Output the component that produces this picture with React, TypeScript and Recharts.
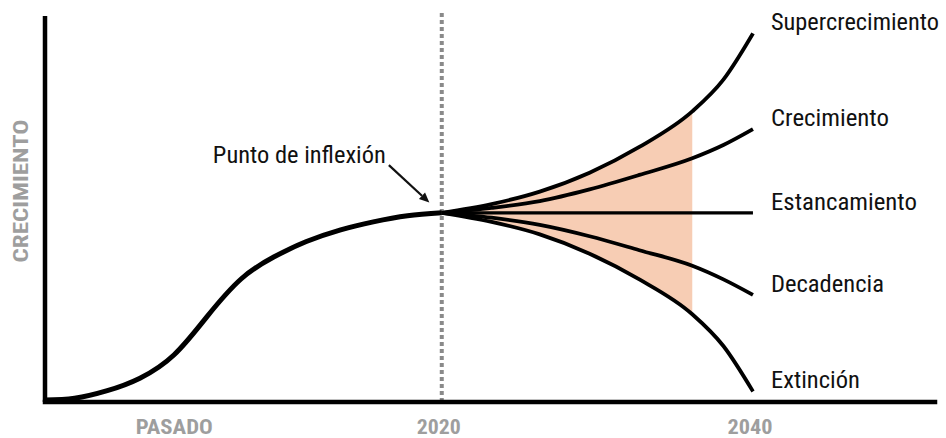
import { ComposedChart, Line, Area, XAxis, YAxis, ReferenceLine } from 'recharts'

// curva S del pasado (años, nivel de crecimiento 0-100)
const pastYears = [1994.5, 1996.4, 1998.5, 2000.6, 2002.8, 2004.9, 2007.1, 2009.2, 2011.3, 2013.5, 2015.6, 2017.8, 2020]
const pastGrowth = [0.5, 1.0, 3.0, 6.3, 12.5, 22.5, 32.5, 38.3, 42.4, 45.5, 47.6, 49.2, 50]

// escenarios 2020-2040
const futureYears = [2020, 2023.2, 2026.3, 2029.5, 2032.7, 2036.1, 2038.1, 2040]
const superGrowth = [50, 52.3, 55.6, 60.6, 67.4, 76.8, 85.2, 97.4]
const growth = [50, 51.3, 53.1, 56.2, 60.0, 64.4, 67.9, 72.1]
const stagnation = [50, 50, 50, 50, 50, 50, 50, 50]
const decay = [50, 48.7, 46.8, 43.8, 40.1, 36.0, 32.4, 28.3]
const extinction = [50, 47.6, 44.3, 39.2, 32.4, 23.2, 14.8, 2.8]

// banda sombreada hasta ~2036
const bandEnd = 2036.1

const xTicks = [2003, 2020, 2040]
const xTickLabels = ['PASADO', '2020', '2040']
const xTickWidths = [77, 44, 45]

const scenarioNames = ['Supercrecimiento', 'Crecimiento', 'Estancamiento', 'Decadencia', 'Extinción']
const scenarioWidths = [168, 118, 146, 113, 89]

const FONT = "'Roboto Condensed', Roboto, sans-serif"

const pastData = pastYears.map((x, i) => ({ x, v: pastGrowth[i] }))
const seriesList = [superGrowth, growth, stagnation, decay, extinction]
const scenarioData = seriesList.map(s => futureYears.map((x, i) => ({ x, v: s[i] })))
const bandData = futureYears
  .map((x, i) => ({ x, range: [extinction[i], superGrowth[i]] }))
  .filter(d => d.x <= bandEnd)

const XTick = (props: any) => {
  const { x, y, payload } = props
  const i = xTicks.indexOf(payload.value)
  return (
    <text x={x - 3} y={y + 32} textAnchor="middle" fill="#9e9e9e" fontFamily={FONT} fontWeight={700} fontSize={20}
      textLength={xTickWidths[i]} lengthAdjust="spacingAndGlyphs">
      {xTickLabels[i]}
    </text>
  )
}

const endLabel = (idx: number) => (props: any) => {
  if (props.index !== futureYears.length - 1) return <g />
  return (
    <text x={props.x + 18} y={props.y - 3} fill="#111" fontFamily={FONT} fontSize={23}
      textLength={scenarioWidths[idx]} lengthAdjust="spacingAndGlyphs">
      {scenarioNames[idx]}
    </text>
  )
}

// flecha "Punto de inflexión"
const Arrow = (props: any) => {
  const { x1, y1, x2, y2 } = props
  const dx = x2 - x1, dy = y2 - y1
  const len = Math.sqrt(dx * dx + dy * dy)
  const ux = dx / len, uy = dy / len
  const hl = 10, hw = 4.5
  const bx = x2 - ux * hl, by = y2 - uy * hl
  return (
    <g>
      <line x1={x1} y1={y1} x2={bx} y2={by} stroke="#111" strokeWidth={2.2} />
      <polygon points={`${x2},${y2} ${bx - uy * hw},${by + ux * hw} ${bx + uy * hw},${by - ux * hw}`} fill="#111" />
      <text x={x1 - 3} y={y1 - 2} textAnchor="end" fill="#111" fontFamily={FONT} fontSize={23}
        textLength={173} lengthAdjust="spacingAndGlyphs">
        Punto de inflexión
      </text>
    </g>
  )
}

export default function App() {
  return (
    <div style={{ position: 'absolute', left: 0, top: 0, width: 946, height: 438, background: '#fff' }}>
      <ComposedChart width={946} height={438} margin={{ top: 16, right: 11, left: 44, bottom: 0 }}>
        <XAxis type="number" dataKey="x" domain={[1994.5, 2051.7]} allowDataOverflow ticks={xTicks} interval={0}
          height={36} tickSize={0} tickMargin={0} tickLine={false} tick={<XTick />}
          axisLine={{ stroke: '#000', strokeWidth: 4.5, strokeLinecap: 'square' }} />
        <YAxis type="number" domain={[0, 102]} allowDataOverflow width={1} tick={false} tickLine={false}
          axisLine={{ stroke: '#000', strokeWidth: 4.5 }}
          label={{
            content: (p: any) => {
              const vb = p.viewBox
              const cx = vb.x - 16
              const cy = vb.y + vb.height / 2 - 18
              return (
                <text x={cx} y={cy} transform={`rotate(-90, ${cx}, ${cy})`} textAnchor="middle" fill="#9e9e9e"
                  fontFamily={FONT} fontWeight={700} fontSize={21} textLength={143} lengthAdjust="spacingAndGlyphs">
                  CRECIMIENTO
                </text>
              )
            },
          }} />
        <ReferenceLine segment={[{ x: 2020, y: 0 }, { x: 2020, y: 103 }]} ifOverflow="visible"
          stroke="#8a8a8a" strokeWidth={4} strokeDasharray="4 3" />
        <Area data={bandData} dataKey="range" type="monotone" stroke="none" fill="#f7cdb4" fillOpacity={1}
          isAnimationActive={false} />
        <Line data={pastData} dataKey="v" type="natural" stroke="#000" strokeWidth={5} dot={false} activeDot={false}
          isAnimationActive={false} />
        {scenarioData.map((d, i) => (
          <Line key={scenarioNames[i]} data={d} dataKey="v" type="monotone" stroke="#000"
            strokeWidth={i === 2 ? 3.2 : 3.8} dot={false} activeDot={false} label={endLabel(i)}
            isAnimationActive={false} />
        ))}
        <ReferenceLine segment={[{ x: 2016.6, y: 62.6 }, { x: 2019.2, y: 52.7 }]} ifOverflow="visible"
          shape={<Arrow />} />
      </ComposedChart>
    </div>
  )
}
